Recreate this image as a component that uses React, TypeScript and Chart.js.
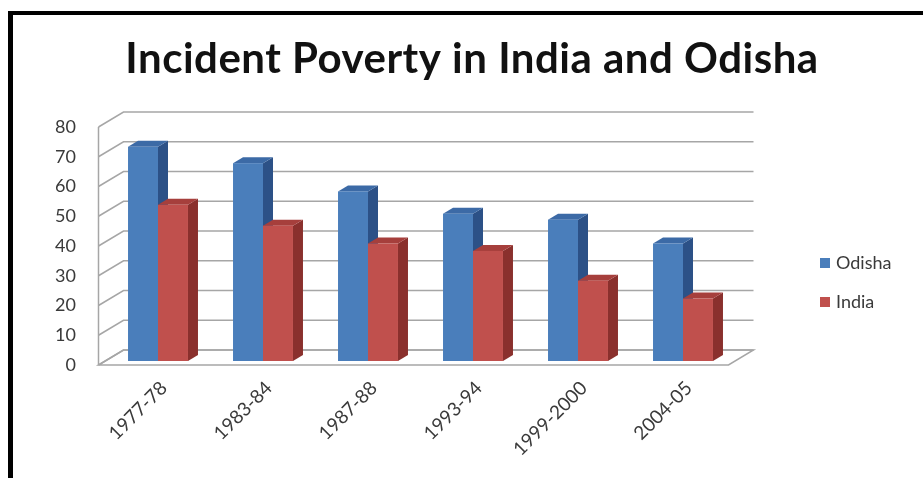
import React, { useEffect, useRef } from "react";
import { Chart, registerables } from "chart.js";

Chart.register(...registerables);

const chartTitle = "Incident Poverty in India and Odisha";
const categories = ["1977-78", "1983-84", "1987-88", "1993-94", "1999-2000", "2004-05"];
const seriesNames = ["Odisha", "India"];
const odishaValues = [72, 66.5, 57, 49.5, 47.5, 39.5];
const indiaValues = [52.5, 45.5, 39.5, 37, 27, 21];
const yTicks = [0, 10, 20, 30, 40, 50, 60, 70, 80];

const frontColors = ["#4A7EBB", "#C0504D"];
const sideColors = ["#2C5187", "#8A302D"];
const topColors = ["#3C6AA6", "#A63F3C"];

// depth geometry relative to the bar plane
const FRONT = { dx: -7, dy: 4 };
const BACK = { dx: 18, dy: -11 };
const BAR_DEPTH = { dx: 10, dy: -6 };
const FONT = "Lato, 'Open Sans', sans-serif";

const threeD = {
  id: "threeD",
  beforeDraw(chart: any) {
    const ctx = chart.ctx;
    ctx.save();
    ctx.fillStyle = "#ffffff";
    ctx.fillRect(0, 0, chart.width, chart.height);
    // frame
    ctx.fillStyle = "#000000";
    ctx.fillRect(8, 11, chart.width - 8, 4);
    ctx.fillRect(8, 11, 5, chart.height - 11);
    // title
    ctx.fillStyle = "#111111";
    ctx.font = `bold 42px ${FONT}`;
    (ctx as any).letterSpacing = "0.5px";
    ctx.textAlign = "center";
    ctx.textBaseline = "alphabetic";
    ctx.fillText(chartTitle, 472, 73);
    (ctx as any).letterSpacing = "0px";
    ctx.restore();
  },
  beforeDatasetsDraw(chart: any) {
    const ctx = chart.ctx;
    const y = chart.scales.y;
    const area = chart.chartArea;
    const L = area.left, R = area.right;
    const y0 = y.getPixelForValue(0);
    const yMax = y.getPixelForValue(yTicks[yTicks.length - 1]);
    ctx.save();
    // floor
    ctx.beginPath();
    ctx.moveTo(L + FRONT.dx, y0 + FRONT.dy);
    ctx.lineTo(R + FRONT.dx, y0 + FRONT.dy);
    ctx.lineTo(R + BACK.dx, y0 + BACK.dy);
    ctx.lineTo(L + BACK.dx, y0 + BACK.dy);
    ctx.closePath();
    ctx.fillStyle = "#ffffff";
    ctx.fill();
    ctx.strokeStyle = "#a6a6a6";
    ctx.lineWidth = 1.5;
    ctx.stroke();
    // back wall grid + left wall
    ctx.strokeStyle = "#a6a6a6";
    ctx.lineWidth = 1.5;
    for (const t of yTicks) {
      const py = y.getPixelForValue(t);
      ctx.beginPath();
      ctx.moveTo(L + FRONT.dx, py + FRONT.dy);
      ctx.lineTo(L + BACK.dx, py + BACK.dy);
      ctx.lineTo(R + BACK.dx, py + BACK.dy);
      ctx.stroke();
    }
    ctx.beginPath();
    ctx.moveTo(L + FRONT.dx, yMax + FRONT.dy);
    ctx.lineTo(L + FRONT.dx, y0 + FRONT.dy);
    ctx.stroke();
    // y labels
    ctx.fillStyle = "#3a3a3a";
    ctx.font = `18px ${FONT}`;
    ctx.textAlign = "right";
    ctx.textBaseline = "middle";
    for (const t of yTicks) {
      const py = y.getPixelForValue(t);
      ctx.fillText(String(t), 76, py + FRONT.dy);
    }
    // x labels
    const x = chart.scales.x;
    ctx.font = `19px ${FONT}`;
    categories.forEach((c, i) => {
      const px = x.getPixelForValue(i);
      ctx.save();
      ctx.translate(px + 6, y0 + 24);
      ctx.rotate(-Math.PI / 4);
      ctx.textAlign = "right";
      ctx.textBaseline = "middle";
      ctx.fillText(c, 0, 0);
      ctx.restore();
    });
    // legend
    ctx.font = `18px ${FONT}`;
    ctx.textAlign = "left";
    ctx.textBaseline = "middle";
    const legendY = [263, 302];
    seriesNames.forEach((n, i) => {
      ctx.fillStyle = frontColors[i];
      ctx.fillRect(820, legendY[i] - 5, 10, 10);
      ctx.fillStyle = "#3a3a3a";
      ctx.fillText(n, 836, legendY[i]);
    });
    ctx.restore();
  },
  beforeDatasetDraw() {
    return false;
  },
  afterDatasetsDraw(chart: any) {
    const ctx = chart.ctx;
    ctx.save();
    const n = chart.data.labels.length;
    for (let i = 0; i < n; i++) {
      chart.data.datasets.forEach((_: any, di: number) => {
        const bar = chart.getDatasetMeta(di).data[i];
        const x1 = bar.x - bar.width / 2;
        const x2 = bar.x + bar.width / 2;
        const top = bar.y;
        const base = bar.base;
        // side
        ctx.beginPath();
        ctx.moveTo(x2, top);
        ctx.lineTo(x2 + BAR_DEPTH.dx, top + BAR_DEPTH.dy);
        ctx.lineTo(x2 + BAR_DEPTH.dx, base + BAR_DEPTH.dy);
        ctx.lineTo(x2, base);
        ctx.closePath();
        ctx.fillStyle = sideColors[di];
        ctx.fill();
        // top
        ctx.beginPath();
        ctx.moveTo(x1, top);
        ctx.lineTo(x1 + BAR_DEPTH.dx, top + BAR_DEPTH.dy);
        ctx.lineTo(x2 + BAR_DEPTH.dx, top + BAR_DEPTH.dy);
        ctx.lineTo(x2, top);
        ctx.closePath();
        ctx.fillStyle = topColors[di];
        ctx.fill();
        // front
        ctx.fillStyle = frontColors[di];
        ctx.fillRect(x1, top, x2 - x1, base - top);
      });
    }
    ctx.restore();
  },
};

export default function App() {
  const ref = useRef<HTMLCanvasElement | null>(null);
  useEffect(() => {
    if (!ref.current) return;
    const chart = new Chart(ref.current, {
      type: "bar",
      data: {
        labels: categories,
        datasets: [
          { label: seriesNames[0], data: odishaValues, backgroundColor: frontColors[0] },
          { label: seriesNames[1], data: indiaValues, backgroundColor: frontColors[1] },
        ],
      },
      options: {
        responsive: false,
        animation: false,
        devicePixelRatio: 1,
        layout: { padding: { left: 105.5, right: 187.5, top: 123, bottom: 117 } },
        datasets: { bar: { categoryPercentage: 0.571, barPercentage: 1.0 } },
        plugins: { legend: { display: false }, title: { display: false }, tooltip: { enabled: false } },
        scales: {
          x: { display: false, offset: true },
          y: { display: false, min: 0, max: 80 },
        },
      },
      plugins: [threeD],
    });
    return () => chart.destroy();
  }, []);
  return (
    <div style={{ position: "fixed", left: 0, top: 0, width: 923, height: 478, background: "#fff" }}>
      <canvas ref={ref} width={923} height={478} style={{ width: 923, height: 478, display: "block" }} />
    </div>
  );
}
